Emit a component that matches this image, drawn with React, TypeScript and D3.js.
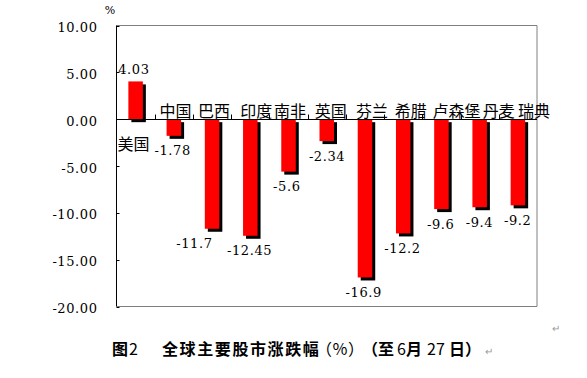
import React from "react";
import * as d3 from "d3";

const categories = ["美国", "中国", "巴西", "印度", "南非", "英国", "芬兰", "希腊", "卢森堡", "丹麦", "瑞典"];
const values = [4.03, -1.78, -11.7, -12.45, -5.6, -2.34, -16.9, -12.2, -9.6, -9.4, -9.2];
const valueLabels = ["4.03", "-1.78", "-11.7", "-12.45", "-5.6", "-2.34", "-16.9", "-12.2", "-9.6", "-9.4", "-9.2"];
const yTicks = [10, 5, 0, -5, -10, -15, -20];

// label nudges (layout only)
const catLabelShift = [-2, 1.6, 2, 6, 1.6, 4, 7, 7.5, 15, 19, 16];
const valLabelShift = [-2, -1.5, -18, -1, -2, 0, -1.5, -1, -1, -0.5, -0.5];

const W = 587;
const H = 378;
const left = 116.5;
const right = 537;
const top = 25.5;
const bottom = 306.5;

const numFont = '"DejaVu Serif", serif';
const cjkFont = '"Noto Sans CJK SC", "Noto Sans", sans-serif';

const numStyle: React.CSSProperties = { fontFamily: numFont, fontSize: "13px", letterSpacing: "0.6px" };
const cjkStyle: React.CSSProperties = { fontFamily: cjkFont, fontSize: "16px" };

export default function App() {
  const x = d3.scaleBand<string>().domain(categories).range([left, right]).padding(0);
  const y = d3.scaleLinear().domain([-20, 10]).range([bottom, top]);
  const y0 = Math.round(y(0)) + 0.5;
  const bw = 14.5;
  const sh = 3;

  const boundaries = d3.range(1, categories.length).map((k) => left + x.step() * k);

  return (
    <svg
      width={W}
      height={H}
      style={{ position: "absolute", left: 0, top: 0, background: "#fff" }}
    >
      <rect x={0} y={0} width={W} height={H} fill="#fff" />
      {/* plot border */}
      <line x1={left} x2={right} y1={top} y2={top} stroke="#808080" />
      <line x1={right} x2={right} y1={top} y2={bottom} stroke="#808080" />
      <line x1={left} x2={right} y1={bottom} y2={bottom} stroke="#808080" />

      {/* bars */}
      {categories.map((c, i) => {
        const v = values[i];
        const cx = (x(c) as number) + x.bandwidth() / 2;
        const yv = y(v);
        const y1 = Math.min(yv, y(0));
        const h = Math.abs(yv - y(0));
        return (
          <g key={c}>
            <rect x={cx - bw / 2 + sh} y={y1 + sh} width={bw} height={h} fill="#000" />
            <rect x={cx - bw / 2} y={y1} width={bw} height={h} fill="#ff0000" />
          </g>
        );
      })}

      {/* y axis */}
      <line x1={left} x2={left} y1={top} y2={bottom} stroke="#000" />
      {yTicks.map((t) => (
        <g key={t}>
          <line x1={left} x2={left + 3} y1={Math.round(y(t)) + 0.5} y2={Math.round(y(t)) + 0.5} stroke="#000" />
          <text
            x={97.6}
            y={y(t) + 2}
            textAnchor="end"
            dominantBaseline="central"
            style={numStyle}
            fill="#000"
          >
            {t.toFixed(2)}
          </text>
        </g>
      ))}

      {/* x axis at 0 */}
      <line x1={left} x2={right} y1={y0} y2={y0} stroke="#000" />
      {boundaries.map((b, k) => (
        <line key={k} x1={Math.round(b) + 0.5} x2={Math.round(b) + 0.5} y1={y0} y2={y0 - 5} stroke="#000" />
      ))}

      {/* category labels */}
      {categories.map((c, i) => {
        const cx = (x(c) as number) + x.bandwidth() / 2 + catLabelShift[i];
        const ly = values[i] >= 0 ? y0 + 23 : y0 - 10;
        return (
          <text
            key={c}
            x={cx}
            y={ly}
            textAnchor="middle"
            dominantBaseline="central"
            style={cjkStyle}
            fill="#000"
          >
            {c}
          </text>
        );
      })}

      {/* value labels */}
      {categories.map((c, i) => {
        const v = values[i];
        const cx = (x(c) as number) + x.bandwidth() / 2 + valLabelShift[i];
        const ly = v >= 0 ? y(v) - 12 : y(v) + 15;
        return (
          <text
            key={c + "v"}
            x={cx + 0.3}
            y={ly}
            textAnchor="middle"
            dominantBaseline="central"
            style={numStyle}
            fill="#000"
          >
            {valueLabels[i]}
          </text>
        );
      })}

      {/* unit */}
      <text x={110} y={10} textAnchor="middle" dominantBaseline="central" style={{ fontFamily: numFont, fontSize: "11px" }} fill="#000">
        %
      </text>

      {/* paragraph mark */}
      <text x={556} y={327} textAnchor="middle" dominantBaseline="central" style={{ fontFamily: cjkFont, fontSize: "10px" }} fill="#999">
        ↵
      </text>

      {/* title */}
      <text y={355} style={cjkStyle} fill="#000">
        <tspan x={112} fontWeight="bold">图</tspan>
        <tspan x={129} fontWeight="normal">2</tspan>
        <tspan x={162} fontWeight="bold" letterSpacing={1.6}>全球主要股市涨跌幅</tspan>
        <tspan x={316} fontWeight="normal">（％）</tspan>
        <tspan x={362} fontWeight="bold">（至</tspan>
        <tspan x={397} fontWeight="normal">6</tspan>
        <tspan x={406} fontWeight="bold">月</tspan>
        <tspan x={427} fontWeight="normal">27</tspan>
        <tspan x={449} fontWeight="bold">日）</tspan>
        <tspan x={485} fontWeight="normal" style={{ fontSize: "10px" }} fill="#999">↵</tspan>
      </text>
    </svg>
  );
}
